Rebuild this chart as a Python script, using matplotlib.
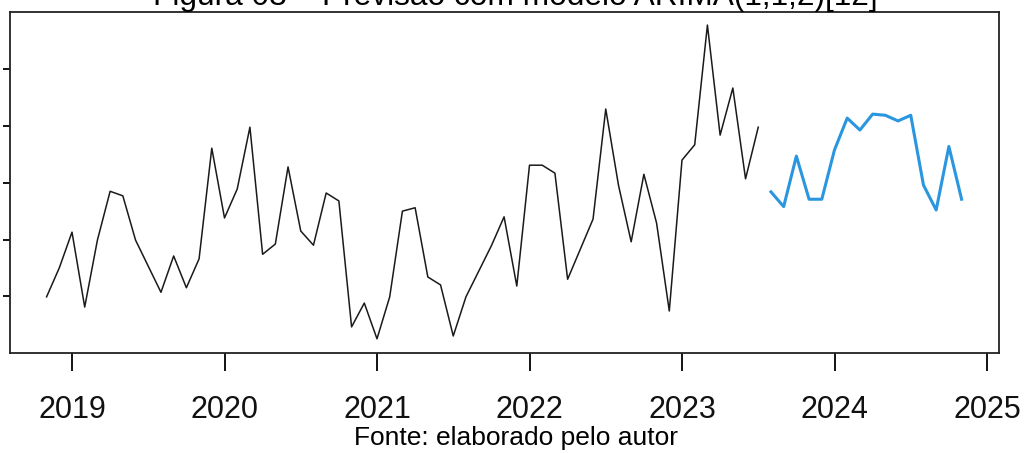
import numpy as np
import matplotlib
matplotlib.use('Agg')
import matplotlib.pyplot as plt

plt.rcParams['font.family'] = ['Liberation Sans', 'DejaVu Sans']

# serie observada: nov/2018 a jul/2023
inicio_obs = 2018 + 10 / 12
observado = [0.99, 1.50, 2.13, 0.81, 1.99, 2.85, 2.77, 1.99, 1.53, 1.07, 1.71, 1.15,
             1.66, 3.61, 2.38, 2.89, 3.98, 1.74, 1.92, 3.28, 2.15, 1.90, 2.82, 2.68,
             0.46, 0.88, 0.25, 0.99, 2.50, 2.56, 1.34, 1.20, 0.30, 0.99, 1.44, 1.89,
             2.40, 1.18, 3.31, 3.31, 3.17, 1.30, 1.83, 2.36, 4.30, 2.96, 1.96, 3.15,
             2.29, 0.74, 3.40, 3.67, 5.78, 3.84, 4.67, 3.07, 3.98]

# previsao: ago/2023 a nov/2024
inicio_prev = 2023 + 7 / 12
previsao = [2.84, 2.58, 3.47, 2.71, 2.71, 3.58, 4.14, 3.93, 4.21, 4.19, 4.09, 4.19,
            2.96, 2.52, 3.64, 2.71]

anos = [2019, 2020, 2021, 2022, 2023, 2024, 2025]
y_ticks = [1, 2, 3, 4, 5]

t_obs = inicio_obs + np.arange(len(observado)) / 12
t_prev = inicio_prev + np.arange(len(previsao)) / 12

fig = plt.figure(figsize=(10.24, 4.53), dpi=100)
W, H = 1024, 453
ax = fig.add_axes([10 / W, 1 - 353 / H, (999 - 10) / W, (353 - 12) / H])

ax.plot(t_obs, observado, color='#1a1a1a', lw=1.1)
ax.plot(t_prev, previsao, color='#2b96e0', lw=2.2)

x0 = 2019 - (72 - 10) / 152.5
x1 = x0 + (999 - 10) / 152.5
ax.set_xlim(x0, x1)
ax.set_ylim(0, 6.01)

ax.set_xticks(anos)
ax.set_xticklabels([str(a) for a in anos], fontsize=22, color='#111111')
ax.tick_params(axis='x', direction='out', length=13, width=1.3, pad=17)
ax.set_yticks(y_ticks)
ax.set_yticklabels([])
ax.tick_params(axis='y', direction='out', length=5, width=1.3)

for s in ax.spines.values():
    s.set_linewidth(1.3)
    s.set_color('#222222')

# titulo cortado no topo, como no original
fig.text(0.503, 1 - 5 / H, 'Figura 03 – Previsão com modelo ARIMA(1,1,2)[12]',
         ha='center', va='baseline', fontsize=22.8)
fig.text(0.504, 1 - 438 / H, 'Fonte: elaborado pelo autor',
         ha='center', va='center', fontsize=19)

fig.savefig('out.png', dpi=100)
